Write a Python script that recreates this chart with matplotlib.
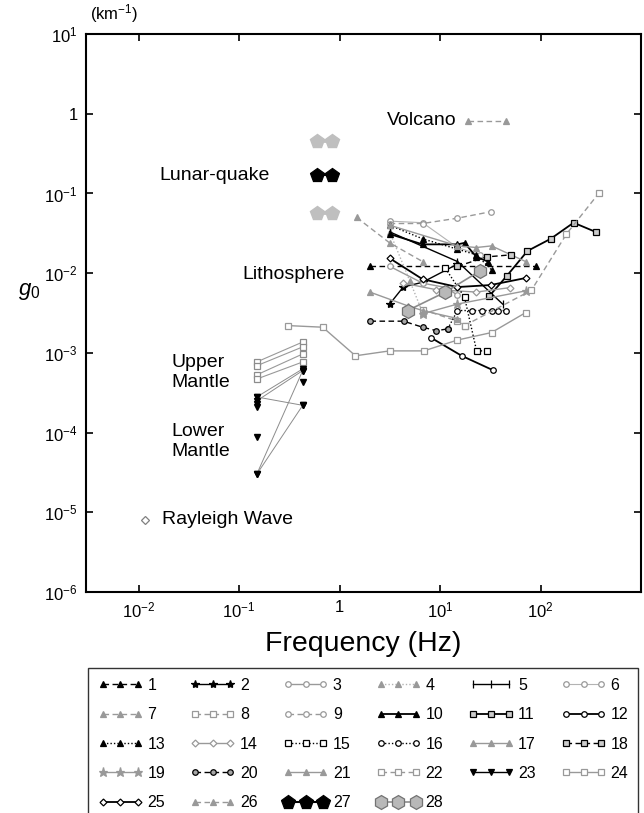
import matplotlib
matplotlib.use('Agg')
import matplotlib.pyplot as plt
from matplotlib.lines import Line2D

plt.rcParams['font.family'] = ['Liberation Sans', 'DejaVu Sans']
plt.rcParams['mathtext.fontset'] = 'custom'
plt.rcParams['mathtext.rm'] = 'Liberation Sans'
plt.rcParams['mathtext.it'] = 'Liberation Sans:italic'

# ---- data: frequency (Hz) and g0 (1/km) ----
f01 = [2.0, 89]
g01 = [0.0122, 0.0122]
f02 = [3.15, 4.3, 6.7, 14.9]
g02 = [0.0041, 0.0067, 0.0077, 0.013]
f03 = [3.15, 6.7, 11.5, 14.9]
g03 = [0.0122, 0.0075, 0.0066, 0.0053]
f04 = [3.15, 5.0, 6.7]
g04 = [0.033, 0.008, 0.0032]
f05 = [3.15, 14.9, 41.9]
g05 = [0.033, 0.014, 0.0041]
f06 = [3.15, 6.7, 14.9, 24.7]
g06 = [0.045, 0.043, 0.021, 0.017]
f07 = [18.8, 44.9]
g07 = [0.82, 0.82]
f08 = [6.7, 14.9, 17.5]
g08 = [0.0035, 0.0025, 0.0022]
f09 = [3.15, 6.7, 14.9, 31.8]
g09 = [0.042, 0.042, 0.049, 0.059]
f10 = [3.15, 6.7, 14.9, 17.5, 23, 30]
g10 = [0.031, 0.023, 0.023, 0.024, 0.016, 0.014]
f11 = [31, 46, 74, 126, 213, 352]
g11 = [0.0052, 0.0092, 0.019, 0.027, 0.043, 0.033]
f12 = [8.2, 16.4, 33.3]
g12 = [0.00154, 0.00092, 0.00061]
f13 = [3.15, 6.7, 14.9, 23, 32.5]
g13 = [0.040, 0.027, 0.020, 0.017, 0.011]
f14 = [4.3, 9.2, 23, 50]
g14 = [0.0075, 0.0062, 0.0058, 0.0066]
f15 = [11.3, 17.5, 23.1, 29.6]
g15 = [0.0115, 0.0050, 0.00106, 0.00106]
f16 = [11.9, 14.9, 20.6, 25.9, 32.5, 37.3, 44.9]
g16 = [0.0020, 0.0034, 0.0034, 0.0034, 0.0034, 0.0034, 0.0034]
f17 = [3.15, 14.9, 23, 32.5, 71]
g17 = [0.040, 0.022, 0.021, 0.022, 0.014]
f18 = [14.9, 29, 51]
g18 = [0.0122, 0.016, 0.017]
f19 = [6.7, 14.9, 71]
g19 = [0.0031, 0.0041, 0.0060]
f20 = [2.03, 4.33, 6.7, 9.2, 11.9]
g20 = [0.0025, 0.0025, 0.0021, 0.0019, 0.0020]
f21 = [2.0, 4.75, 6.7, 14.9]
g21 = [0.0058, 0.0039, 0.0034, 0.0027]
f22 = [17.5, 81, 181, 378]
g22 = [0.0022, 0.0061, 0.031, 0.10]
f25 = [3.15, 6.7, 14.9, 31.8, 71]
g25 = [0.0154, 0.0084, 0.0067, 0.0071, 0.0087]
f26 = [1.48, 3.15, 6.7]
g26 = [0.050, 0.024, 0.014]
f27 = [0.59, 0.85]
g27 = [0.17, 0.17]
g27_hi = [0.45, 0.45]
g27_lo = [0.057, 0.057]
f28 = [4.75, 11.3, 24.7]
g28 = [0.0034, 0.0058, 0.0106]

# series 24: lithosphere line + mantle pairs
f24 = [0.31, 0.68, 1.44, 3.15, 6.9, 14.9, 32.5, 71]
g24 = [0.0022, 0.0021, 0.00092, 0.00106, 0.00106, 0.00145, 0.0018, 0.0032]
f_mantle = [0.15, 0.43]
g24_pairs = [[7.7e-4, 1.37e-3], [6.9e-4, 1.19e-3], [5.3e-4, 9.7e-4], [4.7e-4, 7.7e-4]]
# series 23: mantle down-triangles
g23_pairs = [[2.8e-4, 6.3e-4], [2.5e-4, 6.0e-4], [2.8e-4, 2.2e-4],
             [3.0e-5, 6.0e-4], [3.0e-5, 2.2e-4]]
g23_left_single = [2.3e-4, 2.1e-4, 8.9e-5]
g23_right_single = [4.3e-4]

f_rayleigh = [0.0117]
g_rayleigh = [8.1e-6]

K = 'black'
G = '0.6'
dash = (0, (4, 2.5))
dot = (0, (1, 1.5))

styles = {
    1: dict(marker='^', color=K, mfc=K, mec=K, ls=dash),
    2: dict(marker='*', color=K, mfc=K, mec=K, ls='-', ms=6),
    3: dict(marker='o', color=G, mfc='white', mec=G, ls='-'),
    4: dict(marker='^', color='0.7', mfc=G, mec=G, ls=dot),
    5: dict(marker='|', color=K, mfc=K, mec=K, ls='-', ms=6),
    6: dict(marker='o', color='0.7', mfc='white', mec=G, ls='-', lw=0.8),
    7: dict(marker='^', color=G, mfc=G, mec=G, ls=dash),
    8: dict(marker='s', color=G, mfc='white', mec=G, ls=dash),
    9: dict(marker='o', color=G, mfc='white', mec=G, ls=dash),
    10: dict(marker='^', color=K, mfc=K, mec=K, ls='-', lw=1.3),
    11: dict(marker='s', color=K, mfc='0.8', mec=K, ls='-', lw=1.3),
    12: dict(marker='o', color=K, mfc='white', mec=K, ls='-', lw=1.3),
    13: dict(marker='^', color=K, mfc=K, mec=K, ls=dot),
    14: dict(marker='D', color=G, mfc='white', mec=G, ls='-', ms=3.5),
    15: dict(marker='s', color=K, mfc='white', mec=K, ls=dot),
    16: dict(marker='o', color=K, mfc='white', mec=K, ls=dot),
    17: dict(marker='^', color=G, mfc=G, mec=G, ls='-'),
    18: dict(marker='s', color=K, mfc='0.8', mec=K, ls=dash),
    19: dict(marker='*', color=G, mfc=G, mec=G, ls='-', ms=6.5),
    20: dict(marker='o', color=K, mfc='0.65', mec=K, ls=dash),
    21: dict(marker='^', color=G, mfc=G, mec=G, ls='-'),
    22: dict(marker='s', color=G, mfc='white', mec=G, ls=dash),
    23: dict(marker='v', color=K, mfc=K, mec=K, ls='-'),
    24: dict(marker='s', color=G, mfc='white', mec=G, ls='-'),
    25: dict(marker='D', color=K, mfc='white', mec=K, ls='-', ms=3.5, lw=1.3),
    26: dict(marker='^', color=G, mfc=G, mec=G, ls=dash),
    27: dict(marker='p', color=K, mfc=K, mec=K, ls='-', ms=10, lw=1.5),
    28: dict(marker='h', color='0.55', mfc='0.72', mec='0.45', ls='-', ms=10, lw=1.2),
}

data = {1: (f01, g01), 2: (f02, g02), 3: (f03, g03), 4: (f04, g04), 5: (f05, g05),
        6: (f06, g06), 7: (f07, g07), 8: (f08, g08), 9: (f09, g09), 10: (f10, g10),
        11: (f11, g11), 12: (f12, g12), 13: (f13, g13), 14: (f14, g14), 15: (f15, g15),
        16: (f16, g16), 17: (f17, g17), 18: (f18, g18), 19: (f19, g19), 20: (f20, g20),
        21: (f21, g21), 22: (f22, g22), 24: (f24, g24), 25: (f25, g25), 26: (f26, g26),
        27: (f27, g27), 28: (f28, g28)}


def kw(n):
    s = dict(styles[n])
    s.setdefault('ms', 4)
    s.setdefault('lw', 1.0)
    s['mew'] = 0.9
    return s


fig = plt.figure(figsize=(6.44, 8.13), dpi=100)
ax = fig.add_axes([0.1335, 0.2718, 0.862, 0.6863])

for n, (fx, gy) in data.items():
    ax.plot(fx, gy, **kw(n))

# grey lunar-quake bounds
for gb in (g27_hi, g27_lo):
    ax.plot(f27, gb, marker='p', color='0.75', mfc='0.75', mec='0.75', ms=10, lw=2)

# mantle
for pair in g24_pairs:
    ax.plot(f_mantle, pair, color='0.6', lw=0.8, marker='s', ms=4, mfc='white', mec='0.55', mew=0.9)
for pair in g23_pairs:
    ax.plot(f_mantle, pair, color='0.55', lw=0.7, marker='v', ms=4, mfc=K, mec=K)
ax.plot([f_mantle[0]] * len(g23_left_single), g23_left_single, 'v', ms=4, color=K)
ax.plot([f_mantle[1]] * len(g23_right_single), g23_right_single, 'v', ms=4, color=K)

ax.plot(f_rayleigh, g_rayleigh, 'D', ms=4, mfc='white', mec='0.5', mew=0.9)

ax.set_xscale('log')
ax.set_yscale('log')
ax.set_xlim(3e-3, 1e3)
ax.set_ylim(1e-6, 10)
ax.set_xticks([1e-2, 1e-1, 1, 10, 100])
ax.set_xticklabels([r'$10^{-2}$', r'$10^{-1}$', '1', r'$10^{1}$', r'$10^{2}$'])
ax.set_yticks([1e-6, 1e-5, 1e-4, 1e-3, 1e-2, 1e-1, 1, 10])
ax.set_yticklabels([r'$10^{-6}$', r'$10^{-5}$', r'$10^{-4}$', r'$10^{-3}$',
                    r'$10^{-2}$', r'$10^{-1}$', '1', r'$10^{1}$'])
ax.minorticks_off()
ax.tick_params(which='both', direction='in', top=True, right=True, length=5,
               width=1.2, labelsize=12, pad=6)
for sp in ax.spines.values():
    sp.set_linewidth(1.5)

ax.set_xlabel('Frequency (Hz)', fontsize=20.5, labelpad=8)
fig.text(0.028, 0.641, r'$g_0$', fontsize=16, ha='left', va='center')
fig.text(0.14, 0.983, r'(km$^{-1}$)', fontsize=12, ha='left', va='center')

tfs = 14
ax.text(14.5, 0.82, 'Volcano', fontsize=tfs, ha='right', va='center')
ax.text(0.20, 0.17, 'Lunar-quake', fontsize=tfs, ha='right', va='center')
ax.text(1.12, 0.0097, 'Lithosphere', fontsize=tfs, ha='right', va='center')
ax.text(0.0213, 5.7e-4, 'Upper\nMantle', fontsize=tfs, ha='left', va='center', linespacing=1.2)
ax.text(0.0213, 7.7e-5, 'Lower\nMantle', fontsize=tfs, ha='left', va='center', linespacing=1.2)
ax.text(0.017, 8.1e-6, 'Rayleigh Wave', fontsize=tfs, ha='left', va='center')

# legend, row-major order as in the original
handles = {n: Line2D([], [], **kw(n)) for n in range(1, 29)}
order = []
for c in range(6):
    n = c + 1
    while n <= 28:
        order.append(n)
        n += 6
leg = fig.legend([handles[n] for n in order], [str(n) for n in order],
                 loc='upper left', bbox_to_anchor=(0.137, 0.004, 0.854, 0.174),
                 mode='expand', ncol=6, numpoints=3, handlelength=2.8,
                 handletextpad=0.3, columnspacing=0.8, labelspacing=0.9,
                 fontsize=11.5, fancybox=False, edgecolor='black',
                 borderpad=0.6, borderaxespad=0)
leg.get_frame().set_linewidth(1.0)

fig.savefig('out.png', dpi=100)
